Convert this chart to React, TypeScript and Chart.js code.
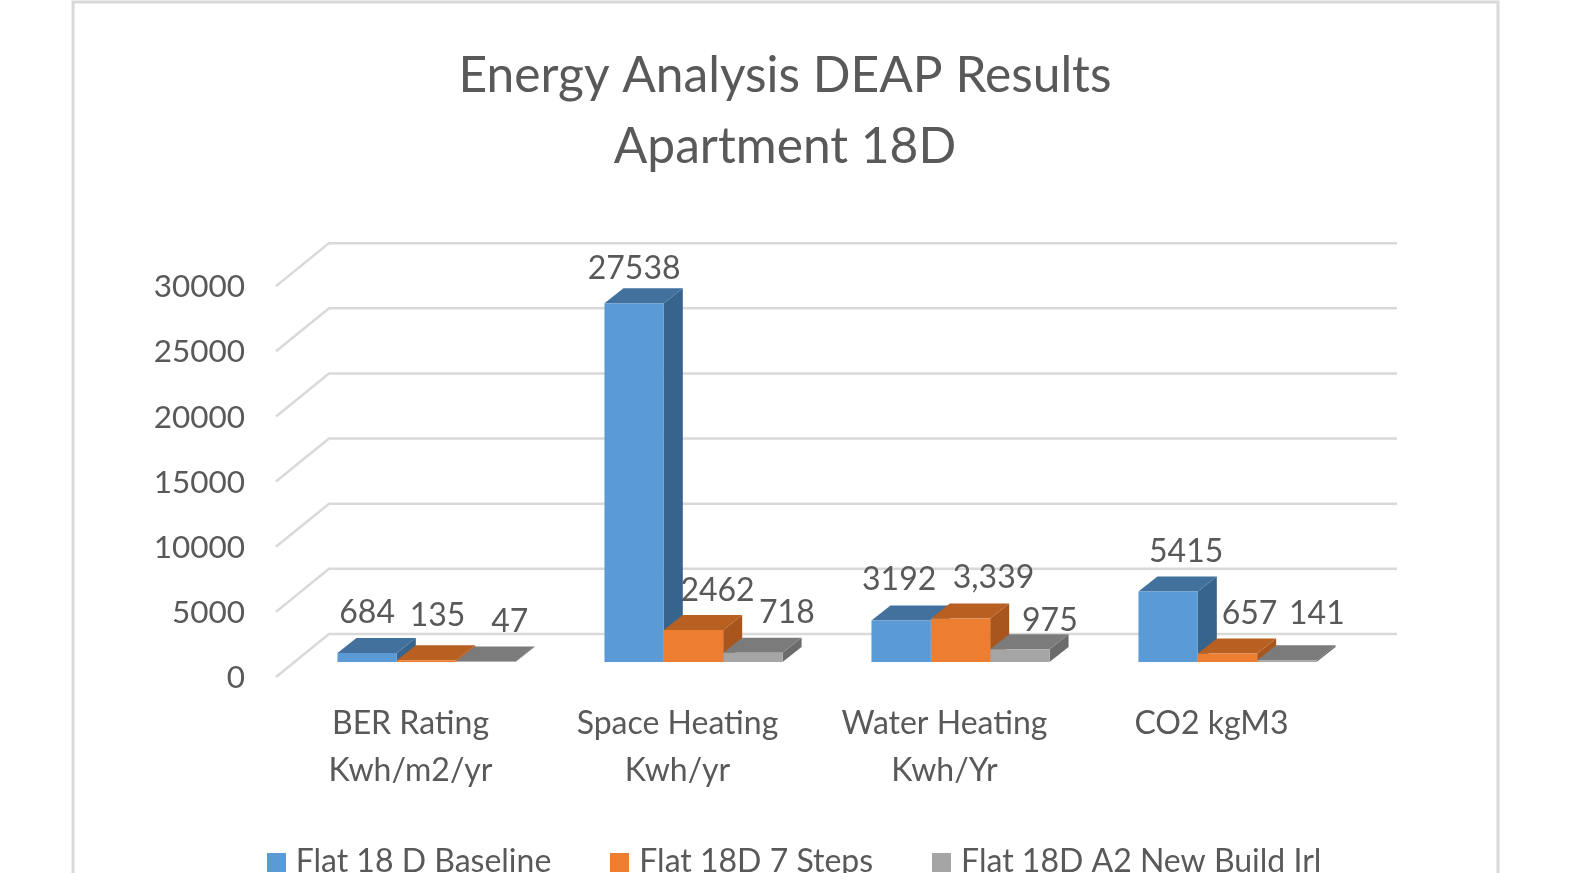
import React, { useEffect, useRef } from "react";
import { Chart, registerables } from "chart.js";

Chart.register(...registerables);

const categories = [
  ["BER Rating", "Kwh/m2/yr"],
  ["Space Heating", "Kwh/yr"],
  ["Water Heating", "Kwh/Yr"],
  ["CO2 kgM3"],
];
const baseline = [684, 27538, 3192, 5415];
const sevenSteps = [135, 2462, 3339, 657];
const newBuild = [47, 718, 975, 141];
const baselineLabels = ["684", "27538", "3192", "5415"];
const sevenStepsLabels = ["135", "2462", "3,339", "657"];
const newBuildLabels = ["47", "718", "975", "141"];
const seriesNames = ["Flat 18 D Baseline", "Flat 18D 7 Steps", "Flat 18D A2 New Build Irl"];

const FONT = "Lato, Carlito, sans-serif";
const TEXT = "#595959";
const GRID = "#D9D9D9";
const DEPTH_X = 19;
const DEPTH_Y = 15;
const WALL_X = 36;
const WALL_Y = 28;
const FLOOR_X = 17;
const FLOOR_Y = 15;
const LEGEND_SHIFT = 12;

const faces = [
  { front: "#5B9BD5", top: "#41719C", side: "#37648C" },
  { front: "#ED7D31", top: "#B85F22", side: "#A9561E" },
  { front: "#A5A5A5", top: "#7B7B7B", side: "#6B6B6B" },
];
const valueLabels = [baselineLabels, sevenStepsLabels, newBuildLabels];
// Per-label nudges away from the bar centre and top, as Excel placed them.
const labelNudgeX = [
  [0, 0, -2, 18],
  [11, 24, 33, 22],
  [24, 34, 30, 30],
];
const labelNudgeY = [
  [-40, -35, -41, -40],
  [-45, -39, -41, -40],
  [-40, -40, -29, -46],
];

function swatch(color: string) {
  const c = document.createElement("canvas");
  c.width = 19;
  c.height = 19;
  const g = c.getContext("2d")!;
  g.fillStyle = color;
  g.fillRect(0, 0, 19, 19);
  return c;
}

const threeD = {
  id: "threeD",
  afterLayout(chart: any) {
    if (chart.legend) {
      chart.legend.left += LEGEND_SHIFT;
      chart.legend.right += LEGEND_SHIFT;
    }
    // The legend's own padding takes the room below the axis; let the labels' clip reach into it.
    chart.scales.x.bottom += 60;
  },
  beforeDraw(chart: any) {
    const { ctx } = chart;
    ctx.save();
    ctx.fillStyle = "#FFFFFF";
    ctx.fillRect(0, 0, chart.width, chart.height);
    ctx.strokeStyle = "#D9D9D9";
    ctx.lineWidth = 3;
    ctx.strokeRect(73, 2, 1425, 1000);
    ctx.restore();
  },
  beforeDatasetsDraw(chart: any) {
    const { ctx, chartArea, scales } = chart;
    const y = scales.y;
    ctx.save();
    ctx.strokeStyle = GRID;
    ctx.lineWidth = 2.5;
    for (const v of y.ticks.map((t: any) => t.value)) {
      const py = y.getPixelForValue(v);
      ctx.beginPath();
      ctx.moveTo(chartArea.left - FLOOR_X, py + FLOOR_Y);
      ctx.lineTo(chartArea.left + WALL_X, py - WALL_Y);
      ctx.lineTo(chartArea.right + WALL_X, py - WALL_Y);
      ctx.stroke();
    }
    chart.data.datasets.forEach((_: any, di: number) => {
      const f = faces[di];
      chart.getDatasetMeta(di).data.forEach((bar: any) => {
        const { x, y: top, base, width } = bar.getProps(["x", "y", "base", "width"], true);
        const l = x - width / 2;
        const r = x + width / 2;
        ctx.fillStyle = f.side;
        ctx.beginPath();
        ctx.moveTo(r, top);
        ctx.lineTo(r + DEPTH_X, top - DEPTH_Y);
        ctx.lineTo(r + DEPTH_X, base - DEPTH_Y);
        ctx.lineTo(r, base);
        ctx.closePath();
        ctx.fill();
        ctx.fillStyle = f.top;
        ctx.beginPath();
        ctx.moveTo(l, top);
        ctx.lineTo(l + DEPTH_X, top - DEPTH_Y);
        ctx.lineTo(r + DEPTH_X, top - DEPTH_Y);
        ctx.lineTo(r, top);
        ctx.closePath();
        ctx.fill();
      });
    });
    ctx.restore();
  },
  afterDatasetsDraw(chart: any) {
    const { ctx } = chart;
    ctx.save();
    ctx.font = `32px ${FONT}`;
    ctx.fillStyle = TEXT;
    ctx.textAlign = "center";
    ctx.textBaseline = "middle";
    chart.data.datasets.forEach((_: any, di: number) => {
      chart.getDatasetMeta(di).data.forEach((bar: any, i: number) => {
        ctx.fillText(
          valueLabels[di][i],
          bar.x + labelNudgeX[di][i],
          bar.y + labelNudgeY[di][i]
        );
      });
    });
    ctx.restore();
  },
};

export default function App() {
  const ref = useRef<HTMLCanvasElement>(null);
  useEffect(() => {
    const chart = new Chart(ref.current!, {
      type: "bar",
      plugins: [threeD],
      data: {
        labels: categories,
        datasets: [baseline, sevenSteps, newBuild].map((values, i) => ({
          label: seriesNames[i],
          data: values,
          backgroundColor: faces[i].front,
          categoryPercentage: 0.667,
          barPercentage: 1,
        })),
      },
      options: {
        responsive: false,
        animation: false,
        layout: { padding: 0 },
        scales: {
          x: {
            type: "category",
            offset: true,
            grid: { display: false },
            border: { display: false },
            ticks: {
              autoSkip: false,
              maxRotation: 0,
              minRotation: 0,
              labelOffset: -16,
              padding: 30,
              color: TEXT,
              font: { family: FONT, size: 32, lineHeight: 1.47 },
            },
            afterFit: (s: any) => { s.height = 119; },
          },
          y: {
            min: 0,
            max: 30000,
            grid: { display: false },
            border: { display: false },
            ticks: {
              stepSize: 5000,
              padding: 40,
              labelOffset: 16,
              color: TEXT,
              font: { family: FONT, size: 31.5 },
              callback: (v: any) => String(v),
            },
            afterFit: (s: any) => { s.width = 293; },
          },
          yRight: {
            axis: "y",
            position: "right",
            min: 0,
            max: 30000,
            grid: { display: false },
            border: { display: false },
            ticks: { display: false },
            afterFit: (s: any) => { s.width = 209; },
          },
        },
        plugins: {
          tooltip: { enabled: false },
          title: {
            display: true,
            text: ["Energy Analysis DEAP Results", "Apartment 18D"],
            color: TEXT,
            font: { family: FONT, size: 49.7, weight: "normal", lineHeight: 1.44 },
            padding: { top: 40, bottom: 88 },
          },
          legend: {
            display: true,
            position: "bottom",
            labels: {
              color: TEXT,
              usePointStyle: true,
              pointStyleWidth: 7,
              padding: 65,
              font: { family: FONT, size: 32 },
              generateLabels: () =>
                seriesNames.map((text, i) => ({
                  text,
                  datasetIndex: i,
                  fillStyle: faces[i].front,
                  strokeStyle: faces[i].front,
                  fontColor: TEXT,
                  lineWidth: 0,
                  pointStyle: swatch(faces[i].front),
                })),
            },
          },
        },
      },
    } as any);
    return () => chart.destroy();
  }, []);
  return (
    <div style={{ position: "fixed", left: 0, top: 0, width: 1570, height: 873, overflow: "hidden", background: "#fff" }}>
      <canvas ref={ref} width={1570} height={888} style={{ display: "block", width: 1570, height: 888, filter: "blur(0.7px)" }} />
    </div>
  );
}
